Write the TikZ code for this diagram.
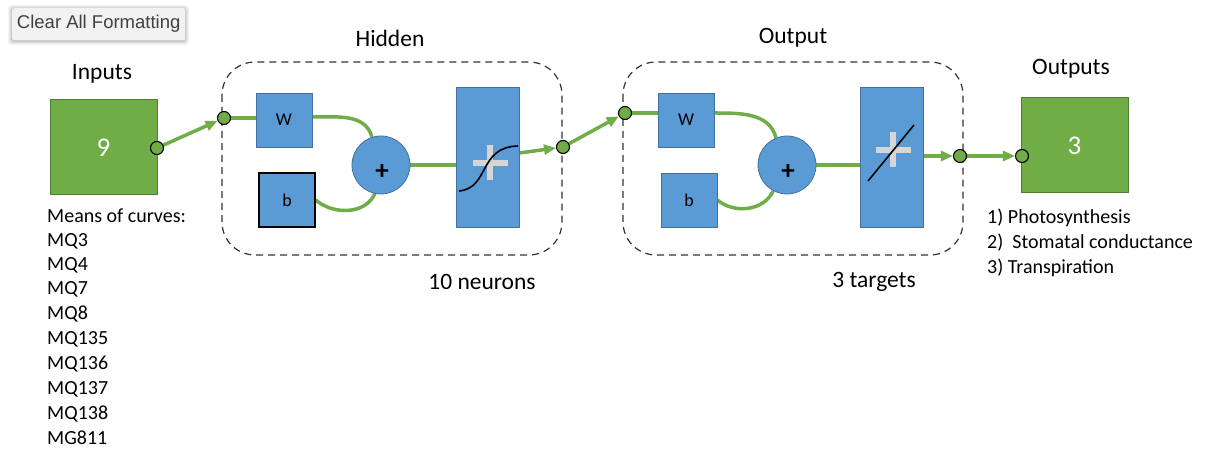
\documentclass[tikz,border=0pt]{standalone}
\usepackage{fontspec}
\setmainfont{Carlito}
\newfontfamily\uifont{Liberation Sans}
\usetikzlibrary{arrows.meta,backgrounds,calc}
\definecolor{leaf}{HTML}{70AD47}
\definecolor{leafdark}{HTML}{507E32}
\definecolor{sky}{HTML}{5B9BD5}
\definecolor{skydark}{HTML}{41719C}
\definecolor{plusgray}{HTML}{D6D6D6}
\tikzset{
  every node/.style={font=\fontsize{20}{24}\selectfont, inner sep=0pt},
  iobox/.style={draw=leafdark, line width=1pt, fill=leaf, minimum width=107pt, minimum height=95pt,
                text=white, font=\fontsize{27}{32}\selectfont},
  wbox/.style={draw=skydark, line width=0.8pt, fill=sky, minimum width=56pt, minimum height=54pt,
               font=\fontsize{18}{21}\selectfont},
  bbox/.style={wbox, draw=black, line width=1.2pt},
  sumnode/.style={circle, draw=skydark, line width=0.8pt, fill=sky, minimum size=58pt},
  sumsign/.style={font=\bfseries\fontsize{27}{30}\selectfont},
  actbox/.style={draw=skydark, line width=0.8pt, fill=sky, minimum width=63pt, minimum height=140pt},
  joint/.style={circle, draw=black, line width=1.1pt, fill=leaf, minimum size=13pt},
  wire/.style={draw=leaf, line width=3.5pt},
  flow/.style={wire, -{Triangle[length=12pt,width=10pt]}},
  layerbox/.style={draw=black!80, line width=1.2pt, dash pattern=on 7pt off 5pt, rounded corners=33pt},
  title/.style={font=\fontsize{23.5}{28}\selectfont},
  crossmark/.style={draw=plusgray, line width=6pt},
  listtext/.style={anchor=west, font=\fontsize{20}{24}\selectfont}
}
\begin{document}
\begin{tikzpicture}[x=1pt,y=1pt]
\useasboundingbox (0,0) rectangle (1205,-449);

% toolbar button with a soft shadow
\foreach \s/\o in {4/0.04,3/0.05,2/0.06,1/0.08}
  \fill[black, opacity=\o, rounded corners=3pt] (12-\s,-8+\s-1) rectangle (185+\s,-40-\s-1);
\node[fill=black!5, rounded corners=2pt, minimum width=173pt, minimum height=32pt, anchor=north west,
      font=\uifont\fontsize{18.5}{21}\selectfont, text=black!75] (btn) at (12,-8) {Clear All Formatting};

% input / output blocks
\node[iobox] (in) at (103.5,-147.5) {9};
\node[title] (inlbl) at (102,-74) {Inputs};
\node[iobox] (out) at (1074.5,-145.5) {3};
\node[title] (outlbl) at (1071,-69) {Outputs};

% hidden layer
\node[title] (hlbl) at (390,-38) {Hidden};
\node[wbox] (hW) at (284,-120) {W};
\node[bbox] (hb) at (287,-200) {b};
\node[sumnode] (hPlus) at (381,-165) {};
\node[sumsign] (hPlusSign) at ($(hPlus.center)+(1,-7)$) {+};
\node[actbox] (hAct) at (487.5,-157) {};
\node[title] (hcount) at (482,-282) {10 neurons};

% output layer
\node[title] (olbl) at (793,-38) {Output};
\node[wbox] (oW) at (686,-120) {W};
\node[wbox] (ob) at (689,-200) {b};
\node[sumnode] (oPlus) at (787,-165) {};
\node[sumsign] (oPlusSign) at ($(oPlus.center)+(1,-7)$) {+};
\node[actbox] (oAct) at (891.5,-157) {};
\node[title] (ocount) at (874,-282) {3 targets};

% junction points
\node[joint] (j1) at (157,-148) {};
\node[joint] (j2) at (224,-118) {};
\node[joint] (j3) at (563,-147) {};
\node[joint] (j4) at (625,-113) {};
\node[joint] (j5) at (960,-156) {};
\node[joint] (j6) at (1022,-156) {};

% transfer function glyphs
\draw[crossmark] (hAct.center) ++(2.5,-6) ++(-17.5,0) -- ++(35,0);
\draw[crossmark] (hAct.center) ++(2.5,-6) ++(0,-17.5) -- ++(0,35);
\draw[black, line width=1.6pt] (459,-191) .. controls (490,-188) and (478,-147) .. (518,-146);
\draw[crossmark] (oAct.center) ++(1.5,7) ++(-17.5,0) -- ++(35,0);
\draw[crossmark] (oAct.center) ++(1.5,7) ++(0,-17.5) -- ++(0,35);
\draw[black, line width=1.6pt] (868,-181) -- (914,-125);

\begin{scope}[on background layer]
  \draw[layerbox] (222,-62) rectangle (562,-255);
  \draw[layerbox] (623,-62) rectangle (963,-255);

  \draw[flow] (j1) -- (j2);
  \draw[wire] (j2) -- (hW.west |- j2);
  \draw[wire] (hW.east |- 0,-117) to[out=0,in=105] (hPlus.108);
  \draw[wire] (hb.east) to[out=-40,in=-115] (hPlus.-102);
  \draw[wire] (hPlus.east) -- (hAct.west |- hPlus.east);
  \draw[flow] ($(hAct.east)+(0,4)$) -- (j3);

  \draw[flow] (j3) -- (j4);
  \draw[wire] (j4) -- (oW.west |- j4);
  \draw[wire] (oW.east |- j4) to[out=0,in=105] (oPlus.112);
  \draw[wire] (ob.east) to[out=-40,in=-115] (oPlus.-118);
  \draw[wire] (oPlus.east) -- (oAct.west |- oPlus.east);
  \draw[flow] (oAct.east |- j5) -- (j5);
  \draw[flow] (j5) -- (j6);
\end{scope}

% input description
\node[listtext] (m0) at (47,-216) {Means of curves:};
\node[listtext] (m1) at (47,-241) {MQ3};
\node[listtext] (m2) at (47,-265) {MQ4};
\node[listtext] (m3) at (47,-289) {MQ7};
\node[listtext] (m4) at (47,-314) {MQ8};
\node[listtext] (m5) at (47,-339) {MQ135};
\node[listtext] (m6) at (47,-364) {MQ136};
\node[listtext] (m7) at (47,-389) {MQ137};
\node[listtext] (m8) at (47,-414) {MQ138};
\node[listtext] (m9) at (47,-438) {MG811};

% target description
\node[listtext] (t1) at (987,-218) {1) Photosynthesis};
\node[listtext] (t2) at (987,-243) {2)\ \ Stomatal conductance};
\node[listtext] (t3) at (987,-268) {3) Transpiration};
\end{tikzpicture}
\end{document}
